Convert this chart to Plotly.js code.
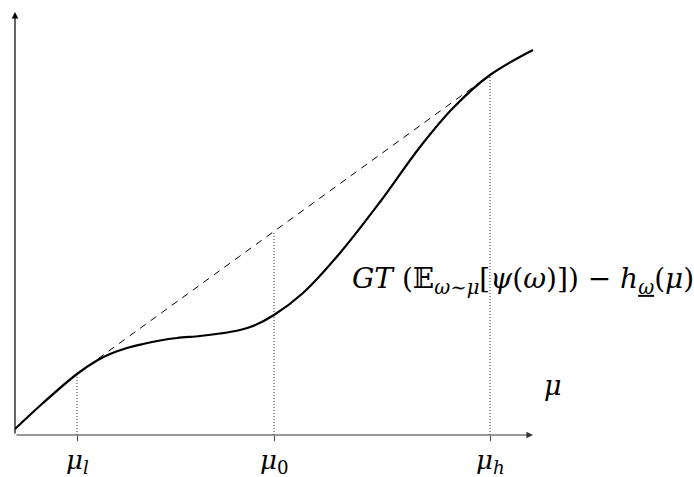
<!DOCTYPE html>
<html>
<head>
<meta charset="utf-8">
<script src="https://cdn.plot.ly/plotly-3.0.1.min.js"></script>
<style>html,body{margin:0;padding:0;background:#fff;}#chart{width:694px;height:477px;}</style>
</head>
<body>
<div id="chart"></div>
<script>
// curve sample points
var curveX = [0, 0.56, 1.24, 1.64, 1.9, 2.24, 2.56, 2.9, 3.24, 3.7, 4.1, 4.5, 4.76, 5.18, 5.76, 6.5, 7.3, 8.1, 8.76, 9.5, 10.36];
var curveY = [0.12, 0.64, 1.22, 1.49, 1.62, 1.74, 1.82, 1.89, 1.94, 1.98, 2.03, 2.1, 2.18, 2.4, 2.84, 3.64, 4.66, 5.76, 6.54, 7.2, 7.7];

// marked points on the horizontal axis
var muNames = ['μl', 'μ0', 'μh'];
var muX = [1.24, 5.18, 9.5];
var muCurveY = [1.22, 2.4, 7.2];
var tickLabels = ['<i>μ</i><sub><i>l</i></sub>', '<i>μ</i><sub>0</sub>', '<i>μ</i><sub><i>h</i></sub>'];

// chord between the curve at μl and μh
var chordX = [muX[0], muX[2]];
var chordY = [muCurveY[0], muCurveY[2]];
var chordAtMu0 = chordY[0] + (chordY[1] - chordY[0]) * (muX[1] - chordX[0]) / (chordX[1] - chordX[0]);

// heights of dotted guide lines
var guideTop = [muCurveY[0], chordAtMu0, muCurveY[2]];

var axisEndX = 10.36, axisEndY = 8.46;

var traces = [];
for (var i = 0; i < muX.length; i++) {
  traces.push({x: [muX[i], muX[i]], y: [0, guideTop[i]], mode: 'lines', name: muNames[i],
    line: {color: '#333', width: 1, dash: '1px,2px'}, hoverinfo: 'skip', showlegend: false});
}
traces.push({x: chordX, y: chordY, mode: 'lines', line: {color: '#000', width: 1, dash: '7px,6px'},
  hoverinfo: 'skip', showlegend: false});
traces.push({x: curveX, y: curveY, mode: 'lines', line: {color: '#000', width: 2.2, shape: 'spline', smoothing: 1},
  hoverinfo: 'skip', showlegend: false});

var serif = 'DejaVu Serif, Liberation Serif, serif';

var annotations = [
  {x: axisEndX, y: 0, ax: 0, ay: 0, xref: 'x', yref: 'y', axref: 'x', ayref: 'y', text: '',
    showarrow: true, arrowhead: 2, arrowsize: 1.1, arrowwidth: 1.2, arrowcolor: '#333'},
  {x: 0, y: axisEndY, ax: 0, ay: 0, xref: 'x', yref: 'y', axref: 'x', ayref: 'y', text: '',
    showarrow: true, arrowhead: 2, arrowsize: 1.1, arrowwidth: 1.2, arrowcolor: '#000'},
  {x: 10.6, y: 1.0, xref: 'x', yref: 'y', xanchor: 'center', yanchor: 'middle', showarrow: false,
    text: '<i>μ</i>', font: {family: serif, size: 27, color: '#000'}, xshift: 8},
  {x: 6.7, y: 3.1, xref: 'x', yref: 'y', xanchor: 'left', yanchor: 'middle', showarrow: false,
    text: '<i>GT</i> (𝔼<sub><i>ω</i>∼<i>μ</i></sub>[<i>ψ</i>(<i>ω</i>)]) − <i>h</i><sub><u><i>ω</i></u></sub>(<i>μ</i>)',
    font: {family: serif, size: 28, color: '#000'}}
];
for (var j = 0; j < muX.length; j++) {
  annotations.push({x: muX[j], y: 0, xref: 'x', yref: 'y', xanchor: 'center', yanchor: 'middle',
    showarrow: false, text: tickLabels[j], yshift: -26, font: {family: serif, size: 26, color: '#000'}});
}

var layout = {
  width: 694, height: 477,
  margin: {l: 15, r: 149, t: 10, b: 42},
  paper_bgcolor: '#fff', plot_bgcolor: '#fff',
  showlegend: false,
  xaxis: {range: [0, 10.6], showgrid: false, zeroline: false, showline: false,
    tickmode: 'array', tickvals: muX, ticktext: ['', '', ''], ticks: 'outside', ticklen: 5,
    tickcolor: '#444', tickwidth: 1},
  yaxis: {range: [0, 8.5], showgrid: false, zeroline: false, showline: false, showticklabels: false, ticks: ''},
  annotations: annotations
};

Plotly.newPlot('chart', traces, layout, {staticPlot: true, displayModeBar: false});
</script>
</body>
</html>
